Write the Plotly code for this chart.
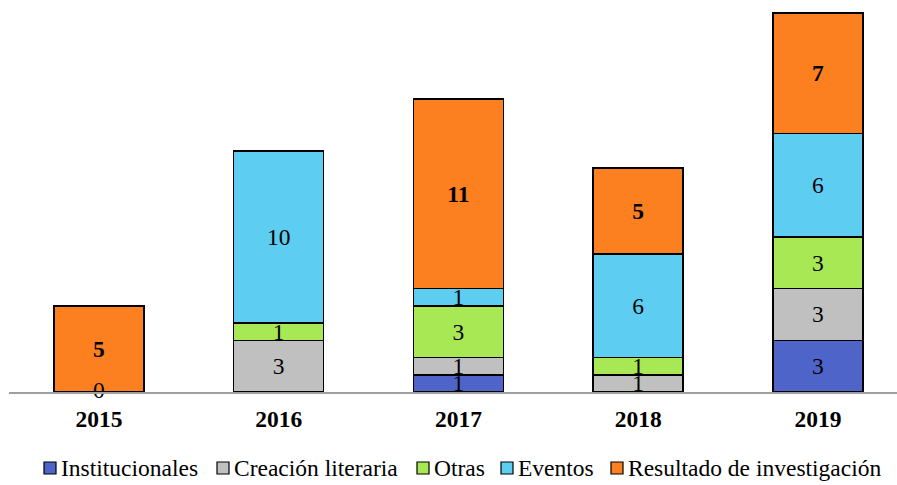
import plotly.graph_objects as go

years = ["2015", "2016", "2017", "2018", "2019"]
institucionales = [0, 0, 1, 0, 3]
creacion = [0, 3, 1, 1, 3]
otras = [0, 1, 3, 1, 3]
eventos = [0, 10, 1, 6, 6]
resultado = [5, 0, 11, 5, 7]
zero_label_years = ["2015"]

series = [
    ("Institucionales", institucionales, "rgb(78,100,200)", False),
    ("Creación literaria", creacion, "rgb(192,192,192)", False),
    ("Otras", otras, "rgb(168,232,84)", False),
    ("Eventos", eventos, "rgb(94,205,242)", False),
    ("Resultado de investigación", resultado, "rgb(253,128,32)", True),
]

font = "Liberation Serif, Times New Roman, serif"
fsize = 23.5

W, H = 897, 485
L, R, T, B = 9, 0, 5, 93
pw, ph = W - L - R, H - T - B

fig = go.Figure()
for name, vals, color, bold in series:
    labels = [("<b>%d</b>" % v if bold else str(v)) if v else "" for v in vals]
    fig.add_trace(go.Bar(
        x=years, y=vals, name=name,
        marker=dict(color=color, line=dict(color="black", width=1.5)),
        text=labels, textposition="inside", insidetextanchor="middle",
        textangle=0, constraintext="none",
        textfont=dict(family=font, size=fsize, color="black"),
        width=0.5, showlegend=False,
    ))

# zero label on the baseline
fig.add_trace(go.Scatter(
    x=zero_label_years, y=[0], mode="text", text=["0"],
    textfont=dict(family=font, size=fsize, color="black"),
    showlegend=False, hoverinfo="skip", cliponaxis=False,
))

# legend drawn by hand so the swatch sits right next to the text
sq_left = [44, 217, 417, 501, 611]
leg_y = 468
for (name, vals, color, bold), px in zip(series, sq_left):
    fig.add_shape(type="rect", xref="paper", yref="paper",
                  x0=(px - L) / pw, x1=(px + 12 - L) / pw,
                  y0=(H - B - (leg_y + 6)) / ph, y1=(H - B - (leg_y - 6)) / ph,
                  fillcolor=color, line=dict(color="black", width=1.2))
    fig.add_annotation(xref="paper", yref="paper",
                       x=(px + 15 - L) / pw, y=(H - B - leg_y) / ph,
                       xanchor="left", yanchor="middle", showarrow=False,
                       text=name, font=dict(family=font, size=fsize, color="black"))

fig.update_layout(
    barmode="stack",
    width=W, height=H,
    margin=dict(l=L, r=R, t=T, b=B, autoexpand=False),
    plot_bgcolor="white", paper_bgcolor="white",
    font=dict(family=font, size=fsize, color="black"),
    showlegend=False,
)
fig.update_xaxes(
    range=[-0.5, 4.44], showline=True, linecolor="rgb(160,160,160)", linewidth=2,
    ticks="", ticklabelstandoff=5,
    tickfont=dict(family=font, size=fsize, color="black"),
    tickprefix="<b>", ticksuffix="</b>",
)
fig.update_yaxes(range=[0, 22.46], visible=False)

fig.write_html("out.html", config={"displayModeBar": False},
               post_script="document.body.style.margin='0';")
